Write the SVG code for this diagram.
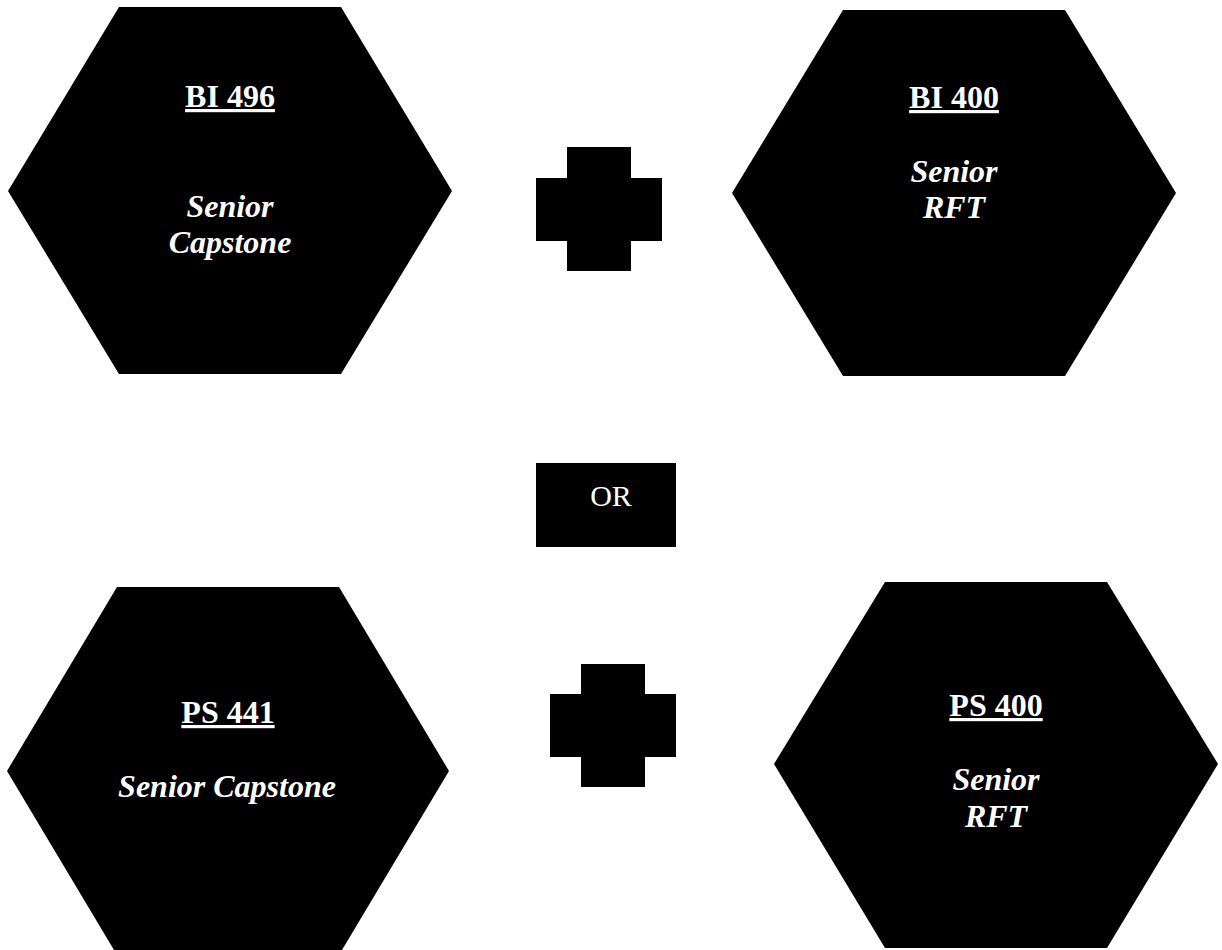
<svg xmlns="http://www.w3.org/2000/svg" width="1222" height="950" viewBox="0 0 1222 950">
<style>
.shape{fill:#000}
.t{fill:#fff;font-family:"Liberation Serif","Times New Roman",serif;text-anchor:middle}
.code{font-size:32px;font-weight:bold;text-decoration:underline}
.name{font-size:32px;font-weight:bold;font-style:italic}
.or{font-size:30px}
</style>
<rect width="1222" height="950" fill="#fff"/>
<g id="connectors"></g>
<g id="bi496">
<polygon class="shape" points="119,7 341,7 452,191 341,374 119,374 8,191"/>
<text class="t code" x="230" y="107">BI 496</text>
<text class="t name" x="230" y="217">Senior</text>
<text class="t name" x="230" y="253">Capstone</text>
</g>
<g id="plus1">
<polygon class="shape" points="567,147 631,147 631,178 662,178 662,241 631,241 631,271 567,271 567,241 536,241 536,178 567,178"/>
</g>
<g id="bi400">
<polygon class="shape" points="843,10 1065,10 1176,193 1065,376 843,376 732,193"/>
<text class="t code" x="954" y="108">BI 400</text>
<text class="t name" x="954" y="182">Senior</text>
<text class="t name" x="954" y="218">RFT</text>
</g>
<g id="or">
<rect class="shape" x="536" y="463" width="140" height="84"/>
<text class="t or" x="611" y="506">OR</text>
</g>
<g id="ps441">
<polygon class="shape" points="117,587 339,587 449,771 339,955 117,955 7,771"/>
<text class="t code" x="228" y="723">PS 441</text>
<text class="t name" x="227" y="797">Senior Capstone</text>
</g>
<g id="plus2">
<polygon class="shape" points="581,664 645,664 645,694 676,694 676,757 645,757 645,787 581,787 581,757 550,757 550,694 581,694"/>
</g>
<g id="ps400">
<polygon class="shape" points="885,582 1107,582 1218,764 1107,948 885,948 774,764"/>
<text class="t code" x="996" y="716">PS 400</text>
<text class="t name" x="996" y="790">Senior</text>
<text class="t name" x="996" y="827">RFT</text>
</g>
</svg>
